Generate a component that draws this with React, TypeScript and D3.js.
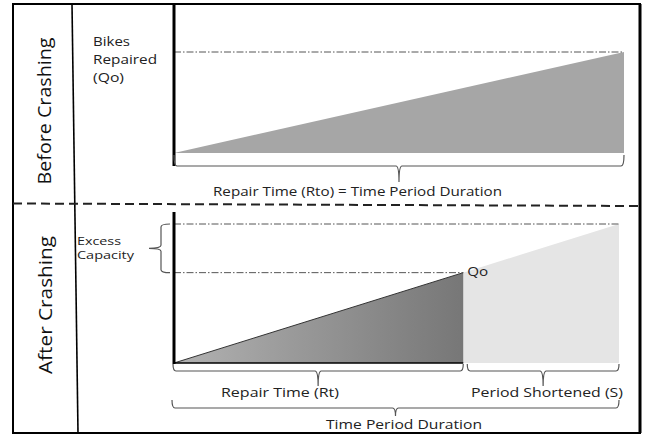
import React from "react";
import * as d3 from "d3";

// ---- data ----
const panelLabels = ["Before Crashing", "After Crashing"];
const timeDomain = [0, 1];
const crashedRepairShare = 0.65; // Rt / Time Period Duration
const outputBefore = [0, 1]; // Qo reached at end of period
const outputAfter = [0, 0.65, 1]; // Qo reached at Rt, capacity at end
const axisTitleLines = ["Bikes", "Repaired", "(Qo)"];
const excessLines = ["Excess", "Capacity"];
const topBraceLabel = "Repair Time (Rto) = Time Period Duration";
const bottomBraceLabels = ["Repair Time (Rt)", "Period Shortened (S)", "Time Period Duration"];
const qoLabel = "Qo";

const W = 645;
const H = 437;
const FONT = "'Open Sans', 'Noto Sans', sans-serif";

function hBrace(x1: number, x2: number, y0: number, y1: number, y2: number) {
  const xm = (x1 + x2) / 2;
  const r = 3;
  return `M${x1},${y0} Q${x1},${y1} ${x1 + r},${y1} L${xm - r},${y1} Q${xm},${y1} ${xm},${y2} Q${xm},${y1} ${xm + r},${y1} L${x2 - r},${y1} Q${x2},${y1} ${x2},${y0}`;
}
function vBraceLeft(y1: number, y2: number, x0: number, x1: number, x2: number) {
  const ym = (y1 + y2) / 2;
  const r = 3;
  return `M${x0},${y1} Q${x1},${y1} ${x1},${y1 + r} L${x1},${ym - r} Q${x1},${ym} ${x2},${ym} Q${x1},${ym} ${x1},${ym + r} L${x1},${y2 - r} Q${x1},${y2} ${x0},${y2}`;
}

const axisTitleWidths = [37, 64, 31];
const excessWidths = [44, 57];

export default function App() {
  const xTop = d3.scaleLinear().domain(timeDomain).range([174, 624]);
  const yTop = d3.scaleLinear().domain([0, 1]).range([153, 52]);
  const xBot = d3.scaleLinear().domain(timeDomain).range([174, 619]);
  const yBot = d3.scaleLinear().domain([0, 1]).range([363, 224]);

  const poly = d3.line<[number, number]>();

  const topTri = poly([
    [xTop(0), yTop(outputBefore[0])],
    [xTop(1), yTop(outputBefore[1])],
    [xTop(1), yTop(0)],
  ]) + "Z";

  const xRt = xBot(crashedRepairShare);
  const yQo = yBot(outputAfter[1]);
  const darkTri = poly([
    [xBot(0), yBot(outputAfter[0])],
    [xRt, yQo],
    [xRt, yBot(0)],
  ]) + "Z";
  const lightQuad = poly([
    [xRt, yQo],
    [xBot(1), yBot(outputAfter[2])],
    [xBot(1), yBot(0)],
    [xRt, yBot(0)],
  ]) + "Z";

  const dashDot = "7,2,1.5,2";
  const fit = { lengthAdjust: "spacingAndGlyphs" as const };

  return (
    <svg width={W} height={H} style={{ position: "absolute", left: 0, top: 0, background: "#fff" }} fontFamily={FONT}>
      <defs>
        <linearGradient id="darkGrad" x1="0" x2="1" y1="0" y2="0">
          <stop offset="0%" stopColor="#b2b2b2" />
          <stop offset="100%" stopColor="#777777" />
        </linearGradient>
      </defs>
      <rect x={0} y={0} width={W} height={H} fill="#fff" />

      {/* outer frame */}
      <rect x={13} y={4} width={627} height={429} fill="none" stroke="#000" strokeWidth={2} />
      <line x1={640} y1={4} x2={640} y2={433} stroke="#000" strokeWidth={3} />
      <line x1={72} y1={4} x2={78} y2={433} stroke="#000" strokeWidth={1.6} />
      {/* separator */}
      <line x1={13} y1={203.5} x2={640} y2={206} stroke="#222" strokeWidth={2} strokeDasharray="9,5" />

      {/* panel labels */}
      <text transform="translate(43,111) rotate(-90)" textAnchor="middle" dominantBaseline="central" fontSize={18.5} fill="#111" textLength={147} {...fit}>
        {panelLabels[0]}
      </text>
      <text transform="translate(44,305) rotate(-90)" textAnchor="middle" dominantBaseline="central" fontSize={18.5} fill="#111" textLength={138} {...fit}>
        {panelLabels[1]}
      </text>

      {/* ---- top panel ---- */}
      <path d={topTri} fill="#a6a6a6" />
      <line x1={xTop(0)} y1={yTop(1)} x2={xTop(1)} y2={yTop(1)} stroke="#555" strokeWidth={1} strokeDasharray={dashDot} />
      <line x1={174} y1={4} x2={174} y2={166} stroke="#000" strokeWidth={3} />
      {axisTitleLines.map((t, i) => (
        <text key={t} x={93} y={45.5 + i * 18} fontSize={12.5} fill="#222" textLength={axisTitleWidths[i]} {...fit}>{t}</text>
      ))}
      <path d={hBrace(xTop(0), xTop(1), 155, 166, 182)} fill="none" stroke="#555" strokeWidth={1.2} />
      <text x={213} y={196} fontSize={13} fill="#222" textLength={289} {...fit}>{topBraceLabel}</text>

      {/* ---- bottom panel ---- */}
      <path d={lightQuad} fill="#e5e5e5" />
      <path d={darkTri} fill="url(#darkGrad)" />
      <line x1={xBot(0)} y1={yBot(0)} x2={xRt} y2={yQo} stroke="#333" strokeWidth={1} />
      <line x1={xBot(0)} y1={yBot(0)} x2={xRt} y2={yBot(0)} stroke="#000" strokeWidth={1.5} />
      <line x1={xBot(0)} y1={yBot(1)} x2={xBot(1)} y2={yBot(1)} stroke="#555" strokeWidth={1} strokeDasharray={dashDot} />
      <line x1={xBot(0)} y1={yQo} x2={xRt} y2={yQo} stroke="#555" strokeWidth={1} strokeDasharray={dashDot} />
      <line x1={174} y1={212} x2={174} y2={364} stroke="#000" strokeWidth={3} />
      <text x={xRt + 4} y={yQo + 3} fontSize={13} fill="#222" textLength={21} {...fit}>{qoLabel}</text>

      <path d={vBraceLeft(yBot(1), yQo, 170, 161, 149)} fill="none" stroke="#555" strokeWidth={1.2} />
      {excessLines.map((t, i) => (
        <text key={t} x={77} y={245 + i * 13.5} fontSize={11} fill="#222" textLength={excessWidths[i]} {...fit}>{t}</text>
      ))}

      <path d={hBrace(xBot(0) - 1, xRt, 364, 371, 386)} fill="none" stroke="#555" strokeWidth={1.2} />
      <path d={hBrace(xRt + 4, xBot(1), 364, 371, 386)} fill="none" stroke="#555" strokeWidth={1.2} />
      <path d={hBrace(xBot(0) - 2, xBot(1), 400, 408, 416)} fill="none" stroke="#555" strokeWidth={1.2} />
      <text x={221} y={397} fontSize={13} fill="#222" textLength={118} {...fit}>{bottomBraceLabels[0]}</text>
      <text x={471} y={397} fontSize={13} fill="#222" textLength={152} {...fit}>{bottomBraceLabels[1]}</text>
      <text x={326} y={429} fontSize={13} fill="#222" textLength={156} {...fit}>{bottomBraceLabels[2]}</text>
    </svg>
  );
}
